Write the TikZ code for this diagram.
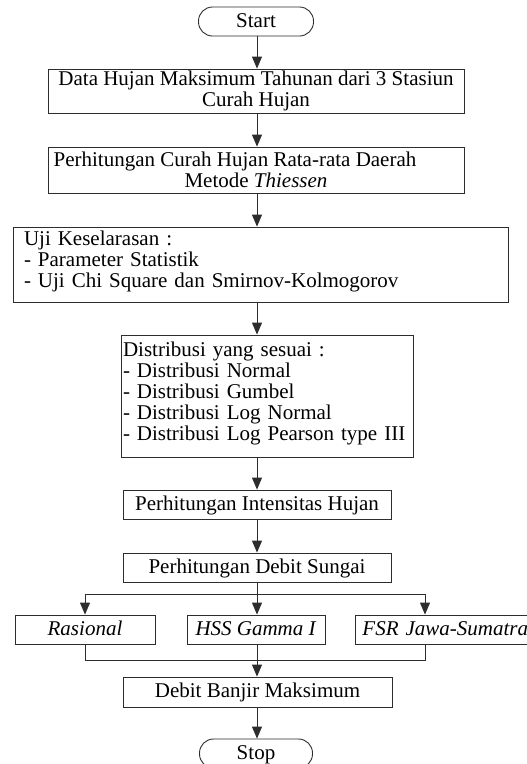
\documentclass[tikz,border=0pt]{standalone}
\usepackage{fontspec}
\setmainfont{Liberation Serif}
\usetikzlibrary{arrows.meta,calc}
\definecolor{edge}{RGB}{45,45,45}
\newcommand{\lowstrut}{\rule[-10pt]{0pt}{1pt}}
\tikzset{
  lbl/.style={font=\fontsize{21}{21}\selectfont, text=black},
  box/.style={lbl, draw=edge, line width=0.9pt, fill=white, inner xsep=3pt, inner ysep=0pt, minimum height=29pt},
  one/.style={text height=15.5pt, text depth=4.5pt},
  term/.style={box, one, rounded corners=14pt},
  flow/.style={draw=edge, line width=0.9pt, -{Triangle[length=12pt,width=10pt]}},
  wire/.style={draw=edge, line width=0.9pt},
}
\begin{document}
\begin{tikzpicture}[x=1pt,y=-1pt]
  \path[use as bounding box] (0,0) rectangle (527,764);
  \clip (0,0) rectangle (527,764);
  \fill[white] (0,0) rectangle (527,764);

  % main column
  \coordinate (spine) at (257,0);
  \node[term, minimum width=115pt] (start) at (256,21.5) {Start};
  \node[box, minimum width=416pt, minimum height=44pt, align=center] (data) at (256,91)
    {Data Hujan Maksimum Tahunan dari 3 Stasiun\\Curah Hujan};
  \node[box, minimum width=416pt, minimum height=46pt, align=center] (rata) at (256,170)
    {Perhitungan Curah Hujan Rata-rata Daerah\hspace*{42pt}\\Metode \textit{Thiessen}};
  \node[box, minimum height=75pt, inner xsep=11pt, text width=473pt, align=left] (uji) at (260.5,264.5)
    {Uji Keselarasan :\\- Parameter Statistik\\- Uji Chi Square dan Smirnov-Kolmogorov\lowstrut};
  \node[box, minimum height=122pt, inner xsep=2pt, text width=288pt, align=left] (dist) at (267,396)
    {Distribusi yang sesuai :\\- Distribusi Normal\\- Distribusi Gumbel\\- Distribusi Log Normal\\- Distribusi Log Pearson type III\lowstrut};
  \node[box, one, minimum width=268pt] (inten) at (257,504.5) {Perhitungan Intensitas Hujan};
  \node[box, one, minimum width=268pt] (sungai) at (257,567.5) {Perhitungan Debit Sungai};

  % discharge methods
  \node[box, one, minimum width=140pt] (ras) at (85,629.5) {\textit{Rasional}};
  \node[box, one, minimum width=138pt] (hss) at (256,629.5) {\textit{HSS Gamma I}};
  \node[box, one, anchor=west, inner xsep=7pt, text width=171pt, align=left] (fsr) at (355,629.5) {\textit{FSR Jawa-Sumatra}};

  \node[box, one, minimum width=269pt, minimum height=30pt] (banjir) at (257.5,692) {Debit Banjir Maksimum};
  \node[term, minimum width=113pt] (stop) at (256,753.5) {Stop};

  % connectors
  \draw[flow] (start.south -| spine) -- (data.north -| spine);
  \draw[flow] (data.south -| spine) -- (rata.north -| spine);
  \draw[flow] (rata.south -| spine) -- (uji.north -| spine);
  \draw[flow] (uji.south -| spine) -- (dist.north -| spine);
  \draw[flow] (dist.south -| spine) -- (inten.north -| spine);
  \draw[flow] (inten.south -| spine) -- (sungai.north -| spine);

  \coordinate (fork) at (257,594);
  \coordinate (join) at (257,660);
  \draw[flow] (sungai.south -| spine) -- (hss.north -| spine);
  \draw[flow] (fork) -| (ras.north);
  \draw[flow] (fork) -| ($(fsr.north west)+(70,0)$);
  \draw[wire] (ras.south) |- (join);
  \draw[wire] ($(fsr.south west)+(70,0)$) |- (join);
  \draw[flow] (hss.south -| spine) -- (banjir.north -| spine);
  \draw[flow] (banjir.south -| spine) -- (stop.north -| spine);
\end{tikzpicture}
\end{document}
